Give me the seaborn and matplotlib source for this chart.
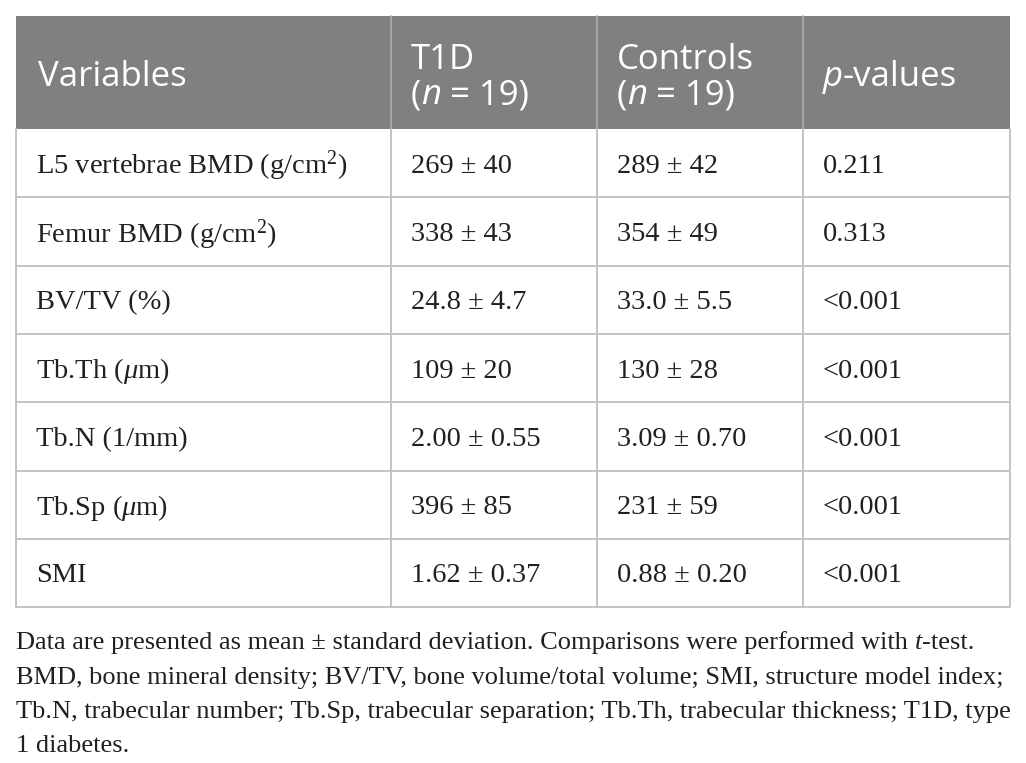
import matplotlib
matplotlib.use("Agg")
import matplotlib.pyplot as plt
import seaborn as sns

# ---------------- data ----------------
header_labels = ["Variables", "T1D", "Controls", "p-values"]
group_n = [19, 19]
variables = [
    "L5 vertebrae BMD (g/cm$^2$)",
    "Femur BMD (g/cm$^2$)",
    "BV/TV (%)",
    "Tb.Th ($\\mu$m)",
    "Tb.N (1/mm)",
    "Tb.Sp ($\\mu$m)",
    "SMI",
]
t1d_mean = [269, 338, 24.8, 109, 2.00, 396, 1.62]
t1d_sd = [40, 43, 4.7, 20, 0.55, 85, 0.37]
ctrl_mean = [289, 354, 33.0, 130, 3.09, 231, 0.88]
ctrl_sd = [42, 49, 5.5, 28, 0.70, 59, 0.20]
decimals = [0, 0, 1, 0, 2, 0, 2]
p_values = ["0.211", "0.313", "<0.001", "<0.001", "<0.001", "<0.001", "<0.001"]
footnote_lines = [
    [("Data are presented as mean \u00b1 standard deviation. Comparisons were performed with ", "normal"),
     ("t", "italic"), ("-test.", "normal")],
    [("BMD, bone mineral density; BV/TV, bone volume/total volume; SMI, structure model index;", "normal")],
    [("Tb.N, trabecular number; Tb.Sp, trabecular separation; Tb.Th, trabecular thickness; T1D, type", "normal")],
    [("1 diabetes.", "normal")],
]

# ---------------- style ----------------
sns.set_theme(style="white")
plt.rcParams["font.family"] = ["Liberation Serif", "DejaVu Serif"]
plt.rcParams["mathtext.fontset"] = "custom"
plt.rcParams["mathtext.rm"] = "Liberation Serif"
plt.rcParams["mathtext.it"] = "Liberation Serif:italic"
plt.rcParams["mathtext.bf"] = "Liberation Serif:bold"

W, H = 1026, 763
fig = plt.figure(figsize=(W / 100, H / 100), dpi=100)
ax = fig.add_axes([0, 0, 1, 1])
ax.set_xlim(0, W)
ax.set_ylim(H, 0)
ax.axis("off")
renderer = fig.canvas.get_renderer()

header_bg = "#808080"
grid_col = "#c4c4c4"
text_col = "#231f20"

col_edges = [16, 391, 597, 803, 1010]
top = 16
header_bottom = 129
row_h = 68.3
n_rows = len(variables)
row_edges = [header_bottom + i * row_h for i in range(n_rows + 1)]
pad = 20

# header background
ax.fill_between([col_edges[0], col_edges[-1]], top, header_bottom, color=header_bg, lw=0)
for x in col_edges[1:-1]:
    ax.plot([x, x], [top, header_bottom], color="#a8a8a8", lw=1.3)

# grid lines of body
for y in row_edges[1:]:
    ax.plot([col_edges[0], col_edges[-1]], [y, y], color=grid_col, lw=1.4)
for x in col_edges:
    ax.plot([x, x], [header_bottom, row_edges[-1]], color=grid_col, lw=1.4)


def text_width(s, **kw):
    a = ax.text(0, 0, "x" + s + "x", **kw)
    b = ax.text(0, 0, "xx", **kw)
    w = a.get_window_extent(renderer).width - b.get_window_extent(renderer).width
    a.remove()
    b.remove()
    return w


def draw_segments(x, y, segs, **kw):
    for s, style in segs:
        ax.text(x, y, s, fontstyle=style, va="center", ha="left", **kw)
        x += text_width(s, fontstyle=style, **kw)


# header texts
hkw = dict(family=["Open Sans", "DejaVu Sans"], fontsize=25, color="white")
hmid = (top + header_bottom) / 2 + 4
ax.text(col_edges[0] + pad + 2, hmid, header_labels[0], va="center", ha="left", **hkw)
for ci, (lab, n) in enumerate(zip(header_labels[1:3], group_n)):
    x0 = col_edges[ci + 1] + pad
    ax.text(x0, 60, lab, va="center", ha="left", **hkw)
    draw_segments(x0, 95, [("(", "normal"), ("n", "italic"), (f" = {n})", "normal")], **hkw)
draw_segments(col_edges[3] + pad, hmid,
              [(header_labels[3][0], "italic"), (header_labels[3][1:], "normal")], **hkw)

# body texts
bkw = dict(fontsize=20.5, color=text_col, va="center", ha="left")
for i in range(n_rows):
    yc = (row_edges[i] + row_edges[i + 1]) / 2 + 3
    d = decimals[i]
    ax.text(col_edges[0] + pad, yc, variables[i], **bkw)
    ax.text(col_edges[1] + pad, yc, f"{t1d_mean[i]:.{d}f} \u00b1 {t1d_sd[i]:.{d}f}", **bkw)
    ax.text(col_edges[2] + pad, yc, f"{ctrl_mean[i]:.{d}f} \u00b1 {ctrl_sd[i]:.{d}f}", **bkw)
    ax.text(col_edges[3] + pad, yc, p_values[i], **bkw)

# footnote: fit size so the widest line spans the table width
base = 16.0
widest = max(sum(text_width(s, fontsize=base, fontstyle=st) for s, st in line) for line in footnote_lines)
fsize = base * (col_edges[-1] - col_edges[0]) / widest
foot_y = [643, 678, 712, 746]
for line, y in zip(footnote_lines, foot_y):
    draw_segments(col_edges[0], y, line, fontsize=fsize, color=text_col)

fig.savefig("out.png", dpi=100, facecolor="white")
